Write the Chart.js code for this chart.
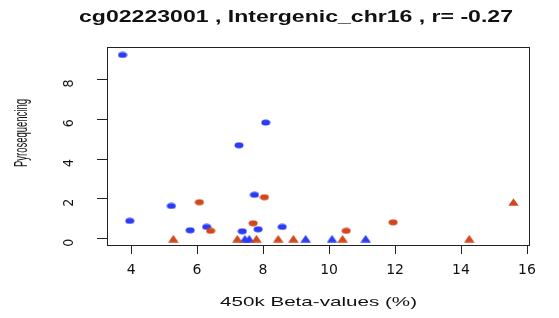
<!DOCTYPE html>
<html>
<head>
<meta charset="utf-8">
<script src="https://cdn.jsdelivr.net/npm/chart.js@4"></script>
<style>
  html, body { margin: 0; padding: 0; background: #fff; }
  #wrap { width: 559px; height: 318px; }
</style>
</head>
<body>
<div id="wrap"><canvas id="plot" width="559" height="318"></canvas></div>
<script>
// values
const blueCircX = [3.74, 3.96, 5.22, 5.79, 6.29, 7.27, 8.08, 7.74, 7.37, 7.85, 8.58];
const blueCircY = [9.23, 0.89, 1.64, 0.42, 0.59, 4.69, 5.83, 2.20, 0.37, 0.47, 0.59];
const redCircX = [6.07, 6.41, 8.04, 7.70, 10.52, 11.94];
const redCircY = [1.83, 0.39, 2.08, 0.77, 0.39, 0.82];
const blueTriX = [7.45, 7.58, 9.29, 10.09, 11.11];
const blueTriY = [0, 0, 0, 0, 0];
const redTriX = [5.28, 7.22, 7.80, 8.46, 8.92, 10.41, 14.25, 15.59];
const redTriY = [0, 0, 0, 0, 0, 0, 0, 1.84];
const xTicks = [4, 6, 8, 10, 12, 14, 16];
const yTicks = [0, 2, 4, 6, 8];

const mainTitle = "cg02223001 , Intergenic_chr16 , r= -0.27";
const xTitle = "450k Beta-values (%)";
const yTitle = "Pyrosequencing";

const BLUE = "#2b3cf4";
const RED = "#d2471c";
const INK = "#222";

// R-ish marks, a bit wider than tall like the picture
function ellipseMark(color) {
  const c = document.createElement("canvas");
  c.width = 10; c.height = 7;
  const g = c.getContext("2d");
  g.fillStyle = color;
  g.beginPath();
  g.ellipse(5, 3.5, 4.5, 3, 0, 0, 2 * Math.PI);
  g.fill();
  return c;
}
function triMark(color) {
  const c = document.createElement("canvas");
  c.width = 11; c.height = 8;
  const g = c.getContext("2d");
  g.fillStyle = color;
  g.beginPath();
  g.moveTo(0.3, 7.8);
  g.lineTo(5.5, 0.3);
  g.lineTo(10.7, 7.8);
  g.closePath();
  g.fill();
  return c;
}

const pts = (xs, ys) => xs.map((x, i) => ({ x: x, y: ys[i] }));

// text squeezed/stretched along its run to the width seen in the picture
function fitText(ctx, text, font, x, y, width, angle) {
  ctx.save();
  ctx.font = font;
  ctx.textAlign = "center";
  ctx.textBaseline = "middle";
  ctx.translate(x, y);
  if (angle) ctx.rotate(angle);
  ctx.scale(width / ctx.measureText(text).width, 1);
  ctx.fillText(text, 0, 0);
  ctx.restore();
}

// box round the plot area plus the titles
const frame = {
  id: "frame",
  afterDraw(chart) {
    const a = chart.chartArea;
    const ctx = chart.ctx;
    ctx.save();
    ctx.strokeStyle = INK;
    ctx.lineWidth = 1;
    ctx.strokeRect(Math.round(a.left) + 0.5, Math.round(a.top) + 0.5, Math.round(a.right - a.left), Math.round(a.bottom - a.top));
    ctx.fillStyle = "#111";
    fitText(ctx, mainTitle, "bold 17px 'Liberation Sans', sans-serif", 296, 17, 434);
    fitText(ctx, xTitle, "13px 'Liberation Sans', sans-serif", 318.5, 302, 197);
    fitText(ctx, yTitle, "19px 'Liberation Sans', sans-serif", 22, 133, 68, -Math.PI / 2);
    ctx.restore();
  },
};

new Chart(document.getElementById("plot"), {
  type: "scatter",
  data: {
    datasets: [
      { label: "red tri", data: pts(redTriX, redTriY), pointStyle: triMark(RED) },
      { label: "red circ", data: pts(redCircX, redCircY), pointStyle: ellipseMark(RED) },
      { label: "blue tri", data: pts(blueTriX, blueTriY), pointStyle: triMark(BLUE) },
      { label: "blue circ", data: pts(blueCircX, blueCircY), pointStyle: ellipseMark(BLUE) },
    ],
  },
  options: {
    responsive: false,
    animation: false,
    layout: { padding: { top: 47, right: 30, left: 0, bottom: 0 } },
    plugins: { legend: { display: false }, tooltip: { enabled: false } },
    scales: {
      x: {
        type: "linear",
        min: 3.27,
        max: 16.06,
        afterBuildTicks: (s) => { s.ticks = xTicks.map((v) => ({ value: v })); },
        afterFit: (s) => { s.height = 73; },
        grid: { drawOnChartArea: false, tickLength: 9, color: INK },
        border: { display: true, color: INK },
        ticks: { color: "#111", font: { family: "'DejaVu Sans'", size: 14 }, padding: 8, maxRotation: 0, autoSkip: false },
      },
      y: {
        min: -0.32,
        max: 9.63,
        afterBuildTicks: (s) => { s.ticks = yTicks.map((v) => ({ value: v })); },
        afterFit: (s) => { s.width = 107; },
        grid: { drawOnChartArea: false, tickLength: 10, color: INK },
        border: { display: true, color: INK },
        ticks: { color: "#111", font: { family: "'DejaVu Sans Condensed', 'DejaVu Sans'", size: 14 }, padding: 28, minRotation: 90, maxRotation: 90, autoSkip: false },
      },
    },
  },
  plugins: [frame],
});
</script>
</body>
</html>
